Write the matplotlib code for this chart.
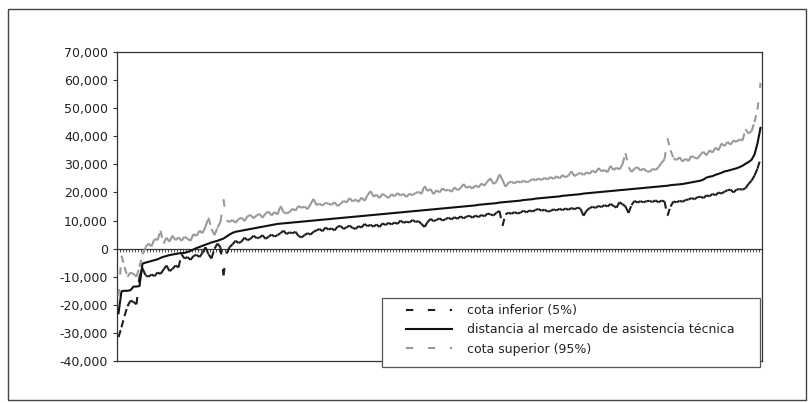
import matplotlib
matplotlib.use('Agg')
import matplotlib.pyplot as plt
from matplotlib.collections import LineCollection
from matplotlib.lines import Line2D
from matplotlib.patches import Rectangle
from matplotlib.ticker import FuncFormatter
import numpy as np

plt.rcParams['font.family'] = ['DejaVu Sans']

# values, in thousands
cota_inferior = [
    -31.5, -28.0, -24.0, -20.5, -18.5, -19.0, -19.8, -10.0, -7.0, -9.5,
    -10.0, -9.2, -9.8, -8.5, -9.0, -7.5, -6.0, -8.0, -7.2, -6.0,
    -6.7, -2.0, -3.5, -3.0, -4.0, -2.6, -2.2, -3.0, -1.5, 0.5,
    -2.0, -3.5, 0.0, 1.8, 0.5, -9.5, -1.8, 0.5, 1.5, 2.8,
    2.0, 2.5, 3.9, 3.0, 3.5, 4.6, 3.8, 3.9, 4.8, 3.5,
    4.2, 5.0, 4.3, 4.8, 5.5, 6.4, 5.2, 5.8, 5.5, 6.0,
    4.5, 4.0, 4.8, 5.5, 5.0, 6.0, 6.5, 7.0, 6.2, 7.5,
    6.8, 7.2, 6.5, 7.8, 8.1, 7.0, 7.6, 8.2, 7.4, 7.0,
    8.0, 7.5, 8.8, 8.0, 8.5, 7.8, 8.6, 7.7, 9.0, 8.4,
    9.2, 8.6, 9.3, 8.8, 10.0, 9.2, 9.6, 9.3, 10.2, 9.5,
    9.8, 8.8, 7.7, 9.4, 10.6, 9.8, 10.2, 10.8, 10.0, 10.5,
    11.0, 10.4, 11.2, 10.6, 11.5, 10.8, 11.4, 11.7, 11.0, 11.8,
    11.2, 12.0, 11.5, 12.5, 12.2, 11.8, 12.8, 13.4, 8.1, 12.2,
    12.8, 12.4, 13.0, 12.5, 12.8, 13.5, 12.9, 13.6, 13.2, 13.8,
    14.1, 13.5, 13.9, 13.2, 13.4, 14.0, 13.6, 14.2, 13.7, 14.3,
    13.8, 14.5, 14.0, 14.6, 14.2, 11.7, 13.5, 14.4, 14.9, 14.5,
    15.2, 14.8, 15.5, 15.0, 15.9, 15.2, 14.6, 16.5, 15.8, 15.0,
    12.7, 15.5, 17.0, 16.4, 16.9, 16.5, 16.9, 17.0, 16.6, 17.2,
    16.5, 17.1, 16.8, 11.7, 15.0, 16.8, 16.5, 17.0, 16.7, 17.3,
    17.5, 18.0, 17.6, 18.3, 18.5, 18.0, 19.0, 18.6, 19.5, 19.0,
    20.0, 19.6, 20.3, 20.8, 21.0, 20.0, 21.0, 21.2, 21.0, 21.5,
    23.0, 24.2, 26.0, 28.5, 32.0,
]

distancia = [
    -23.0, -15.2, -15.0, -15.0, -14.8, -13.5, -13.5, -13.3,
    -5.3, -5.0, -4.7, -4.4, -4.1, -3.8, -3.3, -2.9, -2.6, -2.3,
    -2.1, -1.9, -1.7, -1.6, -1.5, -1.2, -0.8, -0.3, 0.2, 0.6,
    1.0, 1.4, 1.8, 2.2, 2.5, 2.8, 3.2, 3.6, 4.3, 5.0,
    5.6, 6.0, 6.2, 6.4, 6.6, 6.8, 7.0, 7.2, 7.4, 7.6,
    7.8, 8.0, 8.2, 8.4, 8.6, 8.8, 8.9, 9.0, 9.1, 9.2,
    9.3, 9.4, 9.5, 9.6,
    9.7, 9.8, 9.9, 10.0, 10.1, 10.2, 10.3, 10.4, 10.5, 10.6,
    10.7, 10.8, 10.9, 11.0, 11.1, 11.2, 11.3, 11.4, 11.5, 11.6,
    11.7, 11.8, 11.9, 12.0, 12.1, 12.2, 12.3, 12.4, 12.5, 12.6,
    12.7, 12.8, 12.9,
    13.0, 13.1, 13.2, 13.3, 13.4, 13.5, 13.6, 13.7, 13.8, 13.9,
    14.0, 14.1, 14.2, 14.3, 14.4, 14.5, 14.6, 14.7, 14.8, 14.9,
    15.0, 15.1, 15.2, 15.3, 15.4, 15.6, 15.7, 15.8, 15.9, 16.0,
    16.1, 16.2, 16.4, 16.5, 16.6, 16.7, 16.8, 16.9, 17.0, 17.1,
    17.3, 17.4, 17.5, 17.6, 17.8, 17.9,
    18.0, 18.1, 18.2, 18.3, 18.4, 18.5, 18.6, 18.8, 18.9, 19.0,
    19.1, 19.2, 19.3, 19.4, 19.6, 19.7, 19.8, 19.9, 20.0, 20.1,
    20.2, 20.3, 20.4, 20.5, 20.6, 20.7, 20.8, 20.9, 21.0, 21.1,
    21.2, 21.3, 21.4, 21.5, 21.6, 21.7, 21.8, 21.9, 22.0, 22.1,
    22.2, 22.3, 22.4, 22.6, 22.7, 22.8, 22.9, 23.0, 23.2, 23.4,
    23.6, 23.8, 24.0,
    24.2, 24.6, 25.3, 25.6, 25.8, 26.3, 26.6, 27.0, 27.5, 27.7,
    28.0, 28.3, 28.6, 29.0, 29.5, 30.2, 30.8, 31.6, 33.5, 37.5,
    43.0,
]

cota_superior = [
    -17.0, -2.5, -6.5, -10.0, -8.5, -9.0, -10.0, -6.5, -2.0, 0.5,
    1.8, 0.8, 3.5, 3.0, 6.4, 1.8, 3.9, 2.5, 4.6, 3.0,
    4.0, 2.8, 4.2, 3.5, 2.8, 5.2, 4.5, 6.4, 5.5, 7.8,
    11.0, 7.0, 4.8, 7.5, 9.5, 17.5, 10.0, 9.5, 10.2, 9.2,
    10.5, 11.0, 9.8, 11.5, 12.0, 10.8, 11.8, 12.4, 11.0, 12.5,
    13.2, 11.8, 13.0, 12.2, 15.2, 13.0, 12.5, 13.0, 14.2, 13.5,
    15.2, 14.5, 15.0, 14.0, 15.8, 17.7, 15.5, 16.0, 15.3, 16.3,
    16.0, 15.6, 16.5, 15.2, 15.9, 17.0, 16.4, 18.0, 16.8, 17.5,
    16.6, 18.2, 17.0, 19.0, 20.5, 18.5, 19.2, 18.0, 19.5, 18.8,
    18.0, 19.4, 18.6, 19.8, 18.9, 19.5, 18.4, 19.6, 19.0, 19.8,
    20.2, 19.5, 22.3, 20.5, 21.2, 19.4, 20.8, 20.0, 21.5, 20.6,
    21.0, 20.2, 21.8, 20.8, 21.5, 23.0, 21.6, 22.2, 21.4, 22.5,
    21.8, 23.2, 22.4, 24.0, 25.0, 23.0, 23.8, 26.5, 24.5, 22.0,
    23.5, 23.8, 23.2, 24.0, 23.5, 24.2, 23.6, 24.0, 24.8, 24.3,
    25.0, 24.4, 25.2, 24.6, 25.5, 24.8, 25.8, 25.0, 26.2, 25.4,
    26.0, 27.5, 25.8, 26.5, 27.0, 26.2, 27.2, 26.6, 27.8, 27.0,
    28.7, 27.5, 28.0, 27.2, 29.5, 28.0, 28.8, 28.2, 30.0, 34.0,
    29.0, 27.3, 28.5, 29.0, 27.8, 28.5, 27.6, 27.3, 28.4, 28.0,
    29.0, 30.5, 31.8, 39.3, 35.0, 32.2, 31.5, 32.5, 31.0, 32.0,
    31.2, 33.0, 32.4, 32.0, 33.5, 34.5, 33.2, 35.0, 34.2, 36.0,
    35.0, 37.5, 36.5, 38.0, 37.0, 38.5, 38.0, 38.9, 38.5, 42.5,
    41.0, 41.8, 45.0, 49.5, 59.0,
]

labels = ['cota inferior (5%)',
          'distancia al mercado de asistencia técnica',
          'cota superior (95%)']
y_ticks = np.arange(-40000, 70001, 10000)

W, H = 808, 403


def fx(px):
    return px / W


def fy(py):
    return 1 - py / H


DASH = (3.5, 7)


def dashed_segments(ax, x, y, color, zorder):
    # excel restarts the dash pattern on every segment
    pts = np.column_stack([x, y])
    segs = np.stack([pts[:-1], pts[1:]], axis=1)
    lc = LineCollection(segs, colors=color, linewidths=1.5,
                        linestyles=[(0, DASH)], capstyle='butt', zorder=zorder)
    ax.add_collection(lc)


fig = plt.figure(figsize=(W / 100, H / 100), dpi=100)
ax = fig.add_axes([fx(117), fy(361), fx(762) - fx(117), fy(52) - fy(361)])

n = len(distancia)
x = np.arange(n)
low = np.array(cota_inferior) * 1000
mid = np.array(distancia) * 1000
upp = np.array(cota_superior) * 1000

dashed_segments(ax, x, low, '#1e1e1e', 3)
ax.plot(x, mid, color='#111111', lw=1.5, zorder=4)
dashed_segments(ax, x, upp, '#999999', 5)

ax.set_xlim(-0.5, n - 0.5)
ax.set_ylim(-40000, 70000)
ax.set_yticks(y_ticks)
ax.yaxis.set_major_formatter(FuncFormatter(lambda v, p: '{:,.0f}'.format(v)))
ax.set_xticks(np.arange(n + 1) - 0.5)

for s in ax.spines.values():
    s.set_color('#333333')
    s.set_linewidth(0.9)
ax.spines['bottom'].set_position(('data', 0))
ax.axhline(-40000, color='#333333', lw=0.9, clip_on=False, zorder=6)

ax.tick_params(axis='x', direction='out', length=2.5, width=0.6,
               color='#333333', labelbottom=False)
ax.tick_params(axis='y', direction='out', length=3, width=0.8,
               color='#333333', labelsize=9, labelcolor='#222222', pad=3.5)

# outer chart frame
fig.add_artist(Rectangle((fx(8), fy(400)), fx(806) - fx(8), fy(9) - fy(400),
                         transform=fig.transFigure, fill=False,
                         edgecolor='#444444', lw=1.0))

# legend box
fig.add_artist(Rectangle((fx(382), fy(367)), fx(760) - fx(382), fy(298) - fy(367),
                         transform=fig.transFigure, facecolor='white',
                         edgecolor='#555555', lw=0.9, zorder=5))

handles = [
    Line2D([], [], color='#1e1e1e', lw=1.5, dashes=DASH),
    Line2D([], [], color='#111111', lw=1.5),
    Line2D([], [], color='#999999', lw=1.5, dashes=DASH),
]
leg = fig.legend(handles, labels, loc='upper left',
                 bbox_to_anchor=(fx(406), fy(304)), frameon=False,
                 borderpad=0, borderaxespad=0, handlelength=3.68,
                 handletextpad=1.2, labelspacing=0.5, fontsize=9)
leg.set_zorder(6)
for t in leg.get_texts():
    t.set_color('#222222')

fig.savefig('out.png', dpi=100)
